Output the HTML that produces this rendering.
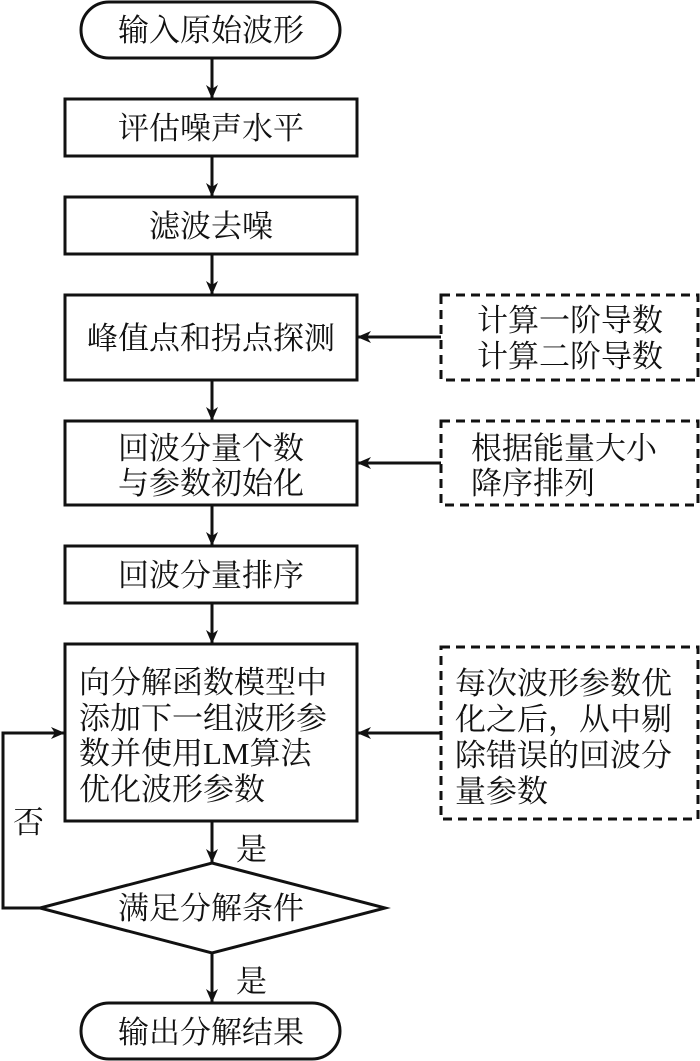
<!DOCTYPE html>
<html><head><meta charset="utf-8"><style>
html,body{margin:0;padding:0;background:#fff}
svg{display:block}
text{font-family:"Liberation Serif","Noto Serif CJK SC",serif;font-size:31px;fill:#111}
</style></head><body>
<svg width="700" height="1061" viewBox="0 0 700 1061" xmlns="http://www.w3.org/2000/svg">
<defs><marker id="a" markerWidth="14" markerHeight="12" refX="13" refY="6" orient="auto" markerUnits="userSpaceOnUse"><path d="M0,0 L14,6 L0,12 L4,6 Z" fill="#111"/></marker></defs>
<g fill="none" stroke="#111" stroke-width="3">
<rect x="81" y="2" width="259" height="56" rx="28"/>
<rect x="65" y="99" width="292" height="57"/>
<rect x="65" y="197" width="292" height="57"/>
<rect x="65" y="295" width="292" height="85"/>
<rect x="65" y="421" width="292" height="84"/>
<rect x="65" y="546" width="292" height="57"/>
<rect x="65" y="644" width="292" height="177"/>
<polygon points="212,863 385,908 212,953 40,908"/>
<rect x="81" y="1003" width="259" height="56" rx="28"/>
<g stroke-dasharray="9,6">
<rect x="441" y="295" width="257" height="85"/>
<rect x="441" y="421" width="257" height="84"/>
<rect x="441" y="647" width="257" height="172"/>
</g>
<g marker-end="url(#a)">
<line x1="212" y1="58" x2="212" y2="98"/>
<line x1="212" y1="156" x2="212" y2="196"/>
<line x1="212" y1="254" x2="212" y2="294"/>
<line x1="212" y1="380" x2="212" y2="420"/>
<line x1="212" y1="505" x2="212" y2="545"/>
<line x1="212" y1="603" x2="212" y2="643"/>
<line x1="212" y1="821" x2="212" y2="862"/>
<line x1="212" y1="953" x2="212" y2="1002"/>
<line x1="441" y1="337" x2="358" y2="337"/>
<line x1="441" y1="463" x2="358" y2="463"/>
<line x1="441" y1="733" x2="358" y2="733"/>
<polyline points="40,908 3,908 3,733 64,733"/>
</g>
</g>
<g text-anchor="middle">
<text x="211" y="41">输入原始波形</text>
<text x="211" y="139">评估噪声水平</text>
<text x="211" y="237">滤波去噪</text>
<text x="211" y="349">峰值点和拐点探测</text>
<text x="211" y="459">回波分量个数</text>
<text x="211" y="494">与参数初始化</text>
<text x="211" y="586">回波分量排序</text>
<text x="211" y="919">满足分解条件</text>
<text x="211" y="1043">输出分解结果</text>
<text x="570" y="331">计算一阶导数</text>
<text x="570" y="367">计算二阶导数</text>
</g>
<text x="471" y="459">根据能量大小</text>
<text x="471" y="494">降序排列</text>
<text x="79" y="693">向分解函数模型中</text>
<text x="79" y="729">添加下一组波形参</text>
<text x="79" y="764">数并使用LM算法</text>
<text x="79" y="800">优化波形参数</text>
<text x="455" y="694">每次波形参数优</text>
<text x="455" y="730">化之后，从中剔</text>
<text x="455" y="766">除错误的回波分</text>
<text x="455" y="802">量参数</text>
<text x="236" y="860">是</text>
<text x="236" y="992">是</text>
<text x="13" y="833">否</text>
</svg>
</body></html>
